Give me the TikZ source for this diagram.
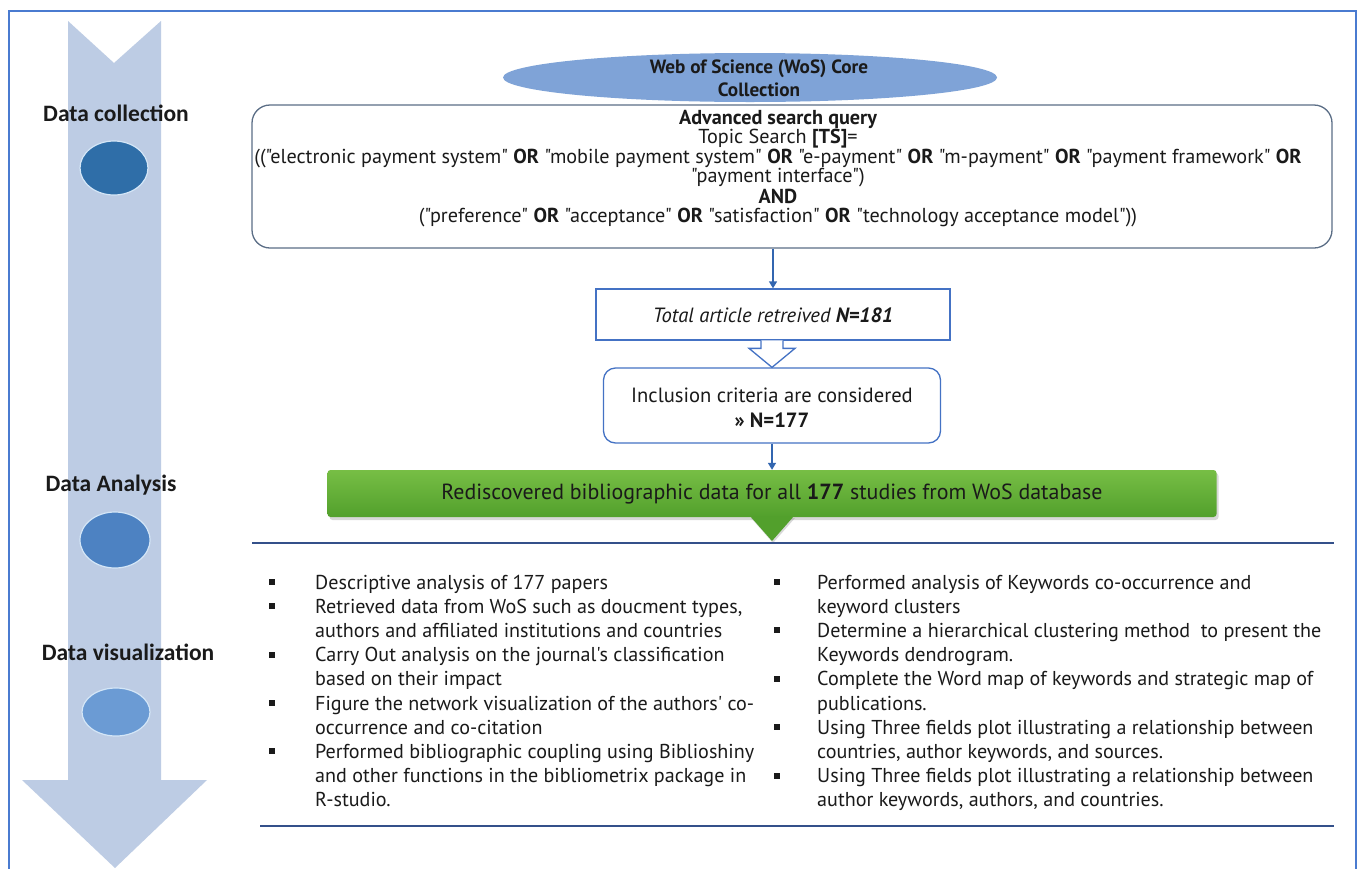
\documentclass[tikz,border=0pt]{standalone}
\usepackage{fontspec}
\setmainfont{PT Sans}[Ligatures=TeXOff]
\newfontfamily\labfont{Carlito}
\usetikzlibrary{shadows,arrows.meta,calc,shapes.geometric}
\definecolor{framec}{HTML}{4A7BD0}
\definecolor{bigarrow}{HTML}{BDCCE4}
\definecolor{ellA}{HTML}{2F6EA8}
\definecolor{ellB}{HTML}{4D82C2}
\definecolor{ellC}{HTML}{6B9BD4}
\definecolor{ellrim}{HTML}{D4E6F7}
\definecolor{wosc}{HTML}{7FA3D7}
\definecolor{qboxc}{HTML}{5B6E86}
\definecolor{tboxc}{HTML}{4472C4}
\definecolor{connc}{HTML}{3366B0}
\definecolor{greenT}{HTML}{77BE45}
\definecolor{greenB}{HTML}{52A02C}
\definecolor{sepc}{HTML}{34508A}
\definecolor{txtc}{HTML}{1A1A1A}
\begin{document}
\begin{tikzpicture}[x=1pt,y=-1pt,
  lab/.style={font=\labfont\bfseries\fontsize{23.5}{27}\selectfont, text=txtc, inner sep=0},
  dot/.style={ellipse, draw=ellrim, line width=1.2pt, minimum width=68pt, minimum height=54pt, inner sep=0},
  qtxt/.style={anchor=base, inner sep=0, text=txtc, font=\fontsize{20.2}{23}\selectfont},
  btxt/.style={anchor=base west, inner sep=0, text=txtc, font=\fontsize{20.1}{23}\selectfont},
  conn/.style={draw=connc, line width=1.4pt, -{Triangle[length=7pt,width=8pt]}},
  sepline/.style={draw=sepc, line width=2.4pt},
  sq/.style={fill=txtc}
]
\clip (0,0) rectangle (1360,868);
\fill[white] (0,0) rectangle (1360,868);
\draw[framec, line width=1.6pt] (9,11) rectangle (1356,900);

% big process arrow
\fill[bigarrow] (68,21) -- (114,63) -- (161,21) -- (161,780) -- (207,780) -- (115,868) -- (22,780) -- (68,780) -- cycle;

% stage labels and markers
\node[lab] (l1) at (116,113) {Data collection};
\node[dot, fill=ellA] (d1) at (114,168) {};
\node[lab] (l2) at (111,485) {Data Analysis};
\node[dot, fill=ellB, minimum width=70pt, minimum height=56pt] (d2) at (115,540) {};
\node[lab] (l3) at (128,652) {Data visualization};
\node[dot, fill=ellC, minimum height=48pt] (d3) at (116,712) {};

% WoS ellipse
\node[ellipse, fill=wosc, minimum width=494pt, minimum height=49pt, inner sep=0] (wos) at (750,77.5) {};
\node[qtxt, font=\bfseries\fontsize{19.2}{22}\selectfont] (w1) at (759,73) {Web of Science (WoS) Core};
\node[qtxt, font=\bfseries\fontsize{19.2}{22}\selectfont] (w2) at (759,96) {Collection};

% query box
\node[draw=qboxc, line width=1.3pt, rounded corners=18pt, minimum width=1080pt, minimum height=143pt, inner sep=0] (q) at (792,176.5) {};
\node[qtxt] (q1) at (778,124) {\bfseries Advanced search query};
\node[qtxt] (q2) at (778,143) {Topic Search \textbf{[TS]}=};
\node[qtxt] (q3) at (778,163) {(("electronic payment system" \textbf{OR} "mobile payment system" \textbf{OR} "e-payment" \textbf{OR} "m-payment" \textbf{OR} "payment framework" \textbf{OR}};
\node[qtxt] (q4) at (778,182) {"payment interface")};
\node[qtxt] (q5) at (778,203) {\bfseries AND};
\node[qtxt] (q6) at (778,222) {("preference" \textbf{OR} "acceptance" \textbf{OR} "satisfaction" \textbf{OR} "technology acceptance model"))};

% total box
\node[draw=tboxc, line width=1.3pt, minimum width=354pt, minimum height=51pt, inner sep=0] (t) at (773,314.5) {};
\node[qtxt, font=\itshape\fontsize{20.6}{23}\selectfont] (t1) at (773,322) {Total article retreived \textbf{N=181}};

% inclusion box
\node[draw=tboxc, line width=1.3pt, rounded corners=12pt, minimum width=337pt, minimum height=75pt, inner sep=0] (i) at (772,405.5) {};
\node[qtxt, font=\fontsize{20.6}{23}\selectfont] (i1) at (772,402) {Inclusion criteria are considered};
\node[qtxt, font=\bfseries\fontsize{20.6}{23}\selectfont] (i2) at (772,427) {» N=177};

% green bar
\node[rounded corners=3pt, top color=greenT, bottom color=greenB, minimum width=889pt, minimum height=47pt, inner sep=0,
      drop shadow={opacity=0.3, shadow xshift=2pt, shadow yshift=-3pt}] (g) at (772,493.5) {};
\fill[greenB, drop shadow={opacity=0.3, shadow xshift=1pt, shadow yshift=-2pt}] (750,516) -- (794,516) -- (772,541) -- cycle;
\node[qtxt, font=\fontsize{21.9}{25}\selectfont] (g1) at (772,499) {Rediscovered bibliographic data for all \textbf{177} studies from WoS database};

% connectors
\draw[conn] (t.north |- q.south) -- (t.north);
\draw[draw=tboxc, fill=white, line width=1.3pt, line join=miter]
  ($(i.north)+(-11,-27)$) -- ($(i.north)+(-11,-19)$) -- ($(i.north)+(-23,-19)$) -- (i.north)
  -- ($(i.north)+(23,-19)$) -- ($(i.north)+(11,-19)$) -- ($(i.north)+(11,-27)$);
\draw[conn] (i.south) -- (g.north);

% separator lines
\draw[sepline] (252,543) -- (1334,543);
\draw[sepline] (260,826) -- (1334,826);

% left column
\foreach \r in {0,1,3,5,7} { \fill[sq] (269,{582+24.2*\r-3}) rectangle ++(6,6); }
\node[btxt] (a0) at (315,589) {Descriptive analysis of 177 papers};
\node[btxt] (a1) at (315,613.2) {Retrieved data from WoS such as doucment types,};
\node[btxt] (a2) at (315,637.4) {authors and affiliated institutions and countries};
\node[btxt] (a3) at (315,661.6) {Carry Out analysis on the journal's classification};
\node[btxt] (a4) at (315,685.8) {based on their impact};
\node[btxt] (a5) at (315,710.0) {Figure the network visualization of the authors' co-};
\node[btxt] (a6) at (315,734.2) {occurrence and co-citation};
\node[btxt] (a7) at (315,758.4) {Performed bibliographic coupling using Biblioshiny};
\node[btxt] (a8) at (315,782.6) {and other functions in the bibliometrix package in};
\node[btxt] (a9) at (315,806.8) {R-studio.};

% right column
\foreach \r in {0,2,4,6,8} { \fill[sq] (774,{582+24.2*\r-3}) rectangle ++(6,6); }
\node[btxt] (b0) at (817,589) {Performed analysis of Keywords co-occurrence and};
\node[btxt] (b1) at (817,613.2) {keyword clusters};
\node[btxt] (b2) at (817,637.4) {Determine a hierarchical clustering method\ \ to present the};
\node[btxt] (b3) at (817,661.6) {Keywords dendrogram.};
\node[btxt] (b4) at (817,685.8) {Complete the Word map of keywords and strategic map of};
\node[btxt] (b5) at (817,710.0) {publications.};
\node[btxt] (b6) at (817,734.2) {Using Three fields plot illustrating a relationship between};
\node[btxt] (b7) at (817,758.4) {countries, author keywords, and sources.};
\node[btxt] (b8) at (817,782.6) {Using Three fields plot illustrating a relationship between};
\node[btxt] (b9) at (817,806.8) {author keywords, authors, and countries.};
\end{tikzpicture}
\end{document}
